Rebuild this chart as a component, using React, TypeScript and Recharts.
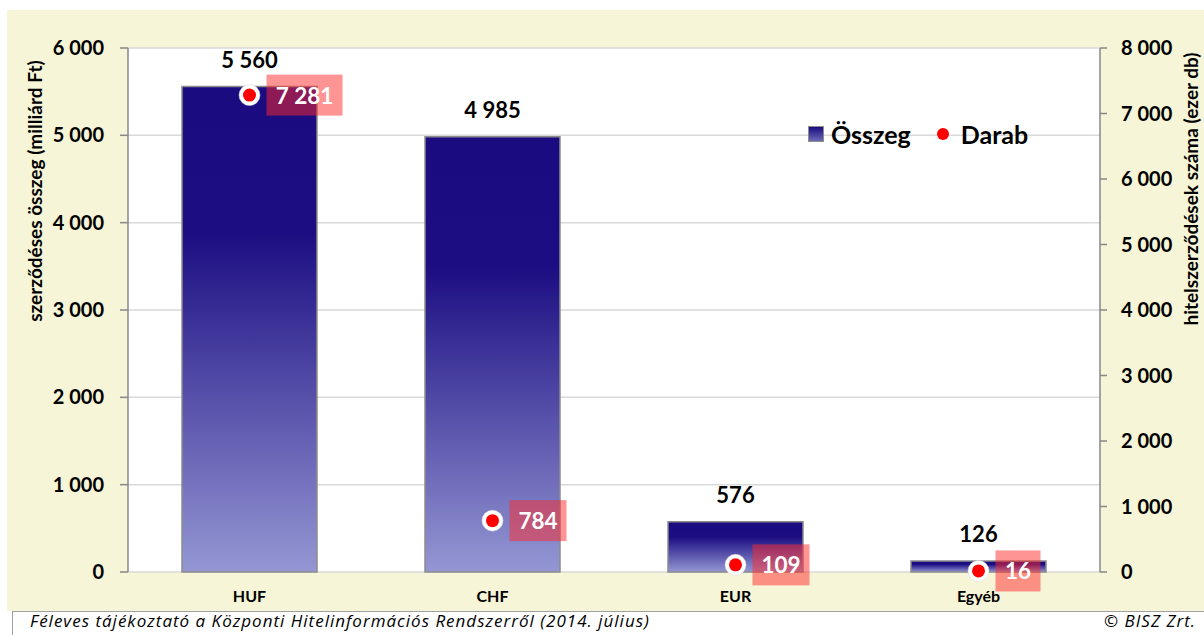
import React from 'react';
import { ComposedChart, Bar, Line, XAxis, YAxis, CartesianGrid, LabelList } from 'recharts';

const categories = ['HUF', 'CHF', 'EUR', 'Egyéb'];
const osszegValues = [5560, 4985, 576, 126];
const darabValues = [7281, 784, 109, 16];
const leftTicks = [0, 1000, 2000, 3000, 4000, 5000, 6000];
const rightTicks = [0, 1000, 2000, 3000, 4000, 5000, 6000, 7000, 8000];
const edgeTicks = [1, 2, 3];

const data = categories.map((c, i) => ({ cat: c, osszeg: osszegValues[i], darab: darabValues[i] }));

const fmt = (v: number) => String(v).replace(/\B(?=(\d{3})+(?!\d))/g, ' ');

const FONT = 'Lato, "Noto Sans", sans-serif';
const AXIS = '#878787';

const BarValueLabel = (props: any) => {
  const { x, y, width, value } = props;
  return (
    <text x={x + width / 2} y={y - 27} textAnchor="middle" dominantBaseline="central"
      fontFamily={FONT} fontWeight={700} fontSize={22} fill="#000">{fmt(value)}</text>
  );
};

const DarabLabel = (props: any) => {
  const { x, y, value } = props;
  const s = fmt(value);
  const digits = s.replace(/ /g, '').length;
  const spaces = s.length - digits;
  const w = digits * 12 + spaces * 7 + 21;
  const bx = x + 17;
  return (
    <g>
      <rect x={bx} y={y - 20.5} width={w} height={41} fill="#FF2A2A" fillOpacity={0.5} />
      <text x={bx + w / 2} y={y} textAnchor="middle" dominantBaseline="central"
        fontFamily={FONT} fontWeight={700} fontSize={22.5} fill="#fff">{s}</text>
    </g>
  );
};

const DarabDot = (props: any) => {
  const { cx, cy } = props;
  if (cx == null || cy == null) return null;
  return (
    <g>
      <circle cx={cx} cy={cy} r={10.5} fill="#fff" stroke="#d8d8d8" strokeWidth={0.5} />
      <circle cx={cx} cy={cy} r={6.5} fill="#FF0000" />
    </g>
  );
};

const footerStyle: React.CSSProperties = {
  position: 'absolute', top: 612, fontFamily: '"Open Sans", sans-serif', fontStyle: 'italic', fontSize: 17,
  lineHeight: '17px', letterSpacing: 1, color: '#000', whiteSpace: 'nowrap',
};

export default function App() {
  return (
    <div style={{ position: 'absolute', left: 0, top: 0, width: 1204, height: 635, background: '#fff', overflow: 'hidden' }}>
      <div style={{ position: 'absolute', left: 7, top: 10, width: 1197, height: 601, background: '#F6F5D8' }} />
      <div style={{ position: 'absolute', left: 12, top: 611, width: 1192, height: 30, borderTop: '1px solid #A0A0A0', borderLeft: '1px solid #A0A0A0', background: '#fff' }} />
      <div style={{ ...footerStyle, left: 30 }}>
        Féleves tájékoztató a Központi Hitelinformációs Rendszerről (2014. július)
      </div>
      <div style={{ ...footerStyle, right: 8 }}>
        © BISZ Zrt.
      </div>
      <div style={{ position: 'absolute', left: 0, top: 0 }}>
        <ComposedChart width={1204} height={635} data={data} margin={{ top: 48, right: 14, bottom: 33, left: 28 }}>
          <defs>
            <linearGradient id="barGrad" x1="0" y1="0" x2="0" y2="1">
              <stop offset="0" stopColor="#1B0B80" />
              <stop offset="0.3" stopColor="#1C0D82" />
              <stop offset="1" stopColor="#9497D3" />
            </linearGradient>
          </defs>
          <CartesianGrid yAxisId="left" vertical={false} stroke="#D9D9D9" strokeWidth={1.5} fill="#FFFFFF" />
          <XAxis xAxisId="edges" type="number" domain={[0, 4]} ticks={edgeTicks} height={0}
            tick={false} tickSize={7} axisLine={{ stroke: AXIS, strokeWidth: 1.5 }} tickLine={{ stroke: AXIS, strokeWidth: 1.5 }} />
          <XAxis dataKey="cat" height={30} axisLine={false} tickLine={false} tickSize={0} tickMargin={19}
            tick={{ fontFamily: FONT, fontWeight: 700, fontSize: 16, fill: '#000' }} />
          <YAxis yAxisId="left" orientation="left" width={100} domain={[0, 6000]} ticks={leftTicks}
            tickFormatter={fmt} tickSize={8} tickMargin={16} interval={0}
            axisLine={{ stroke: AXIS, strokeWidth: 1.5 }} tickLine={{ stroke: AXIS, strokeWidth: 1.5 }}
            tick={{ fontFamily: FONT, fontWeight: 700, fontSize: 20, fill: '#000' }} />
          <YAxis yAxisId="right" orientation="right" width={90} domain={[0, 8000]} ticks={rightTicks}
            tickFormatter={fmt} tickSize={7} tickMargin={14} interval={0}
            axisLine={{ stroke: AXIS, strokeWidth: 1.5 }} tickLine={{ stroke: AXIS, strokeWidth: 1.5 }}
            tick={{ fontFamily: FONT, fontWeight: 700, fontSize: 20, fill: '#000' }} />
          <Bar yAxisId="left" dataKey="osszeg" barSize={135} fill="url(#barGrad)" stroke="#8C8C8C" strokeWidth={1.5} isAnimationActive={false}>
            <LabelList dataKey="osszeg" content={<BarValueLabel />} />
          </Bar>
          <Line yAxisId="right" dataKey="darab" stroke="none" dot={<DarabDot />} activeDot={false} isAnimationActive={false}>
            <LabelList dataKey="darab" content={<DarabLabel />} />
          </Line>
        </ComposedChart>
      </div>
      <div style={{ position: 'absolute', left: 34, top: 191, width: 0, height: 0 }}>
        <div style={{ position: 'absolute', transform: 'translate(-50%, -50%) rotate(-90deg)', fontFamily: FONT, fontWeight: 700, fontSize: 19, whiteSpace: 'nowrap', color: '#000' }}>
          szerződéses összeg (milliárd Ft)
        </div>
      </div>
      <div style={{ position: 'absolute', left: 1190, top: 189, width: 0, height: 0 }}>
        <div style={{ position: 'absolute', transform: 'translate(-50%, -50%) rotate(-90deg)', fontFamily: FONT, fontWeight: 700, fontSize: 19, whiteSpace: 'nowrap', color: '#000' }}>
          hitelszerződések száma (ezer db)
        </div>
      </div>
      <div style={{ position: 'absolute', left: 808, top: 119, display: 'flex', alignItems: 'center', fontFamily: FONT, fontWeight: 700, fontSize: 25, color: '#000', whiteSpace: 'nowrap' }}>
        <span style={{ display: 'inline-block', width: 14, height: 14, background: 'linear-gradient(#1B0B80, #6A6AB5)', border: '1.5px solid #8C8C8C', marginRight: 7 }} />
        <span>Összeg</span>
        <span style={{ display: 'inline-block', width: 12, height: 12, borderRadius: 6, background: '#FF0000', marginLeft: 26, marginRight: 12 }} />
        <span>Darab</span>
      </div>
    </div>
  );
}
